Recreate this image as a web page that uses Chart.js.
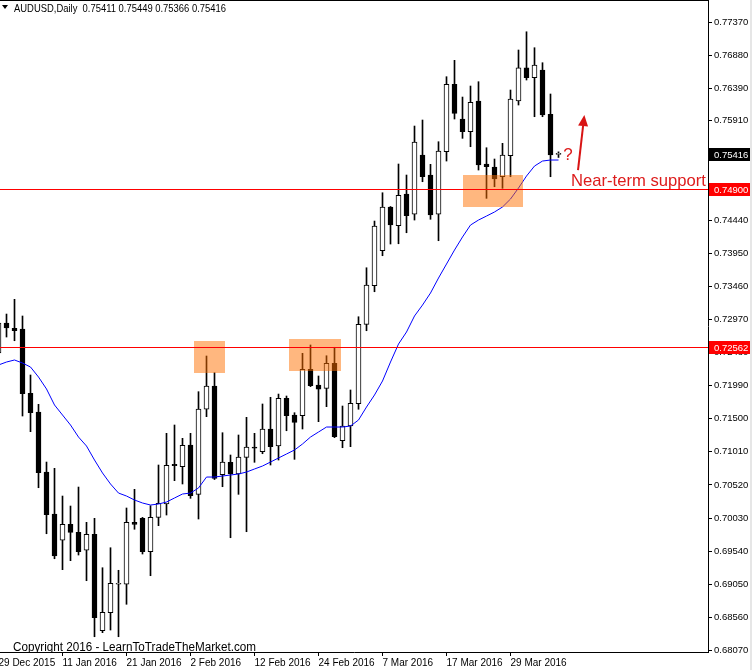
<!DOCTYPE html>
<html>
<head>
<meta charset="utf-8">
<script src="https://cdn.jsdelivr.net/npm/chart.js@4/dist/chart.umd.min.js"></script>
<style>
  html, body { margin: 0; padding: 0; background: #fff; }
  #wrap { width: 752px; height: 670px; }
</style>
</head>
<body>
<div id="wrap"><canvas id="chart"></canvas></div>
<script>
/* global Chart */

const symbol = "AUDUSD";
const timeframe = "Daily";

const dates = [
  "29 Dec 2015", "30 Dec 2015", "31 Dec 2015", "4 Jan 2016", "5 Jan 2016", "6 Jan 2016", "7 Jan 2016", "8 Jan 2016",
  "11 Jan 2016", "12 Jan 2016", "13 Jan 2016", "14 Jan 2016", "15 Jan 2016", "18 Jan 2016", "19 Jan 2016", "20 Jan 2016",
  "21 Jan 2016", "22 Jan 2016", "25 Jan 2016", "26 Jan 2016", "27 Jan 2016", "28 Jan 2016", "29 Jan 2016", "1 Feb 2016",
  "2 Feb 2016", "3 Feb 2016", "4 Feb 2016", "5 Feb 2016", "8 Feb 2016", "9 Feb 2016", "10 Feb 2016", "11 Feb 2016",
  "12 Feb 2016", "15 Feb 2016", "16 Feb 2016", "17 Feb 2016", "18 Feb 2016", "19 Feb 2016", "22 Feb 2016", "23 Feb 2016",
  "24 Feb 2016", "25 Feb 2016", "26 Feb 2016", "29 Feb 2016", "1 Mar 2016", "2 Mar 2016", "3 Mar 2016", "4 Mar 2016",
  "7 Mar 2016", "8 Mar 2016", "9 Mar 2016", "10 Mar 2016", "11 Mar 2016", "14 Mar 2016", "15 Mar 2016", "16 Mar 2016",
  "17 Mar 2016", "18 Mar 2016", "21 Mar 2016", "22 Mar 2016", "23 Mar 2016", "24 Mar 2016", "25 Mar 2016", "28 Mar 2016",
  "29 Mar 2016", "30 Mar 2016", "31 Mar 2016", "1 Apr 2016", "4 Apr 2016", "5 Apr 2016", "6 Apr 2016",
];

const opens = [
  0.72473, 0.72916, 0.72838, 0.72827, 0.71876, 0.71599, 0.70711, 0.70090,
  0.69701, 0.69937, 0.69819, 0.69553, 0.69790, 0.68363, 0.68629, 0.69050,
  0.69050, 0.69967, 0.70026, 0.69532, 0.70041, 0.70238, 0.70825, 0.70790,
  0.71111, 0.70381, 0.71640, 0.71984, 0.70671, 0.70855, 0.70682, 0.70929,
  0.71071, 0.71012, 0.71348, 0.71096, 0.71802, 0.71555, 0.71544, 0.72231,
  0.71999, 0.71950, 0.72320, 0.71175, 0.71392, 0.71722, 0.72897, 0.73468,
  0.73986, 0.74633, 0.74356, 0.74825, 0.74525, 0.75402, 0.75106, 0.74525,
  0.75451, 0.76448, 0.75935, 0.75747, 0.76201, 0.75269, 0.75224, 0.75081,
  0.75392, 0.76201, 0.76694, 0.76546, 0.76660, 0.76004, 0.75411,
];
const highs = [
  0.73000, 0.73049, 0.73267, 0.73020, 0.72147, 0.71713, 0.70859, 0.70766,
  0.70356, 0.70208, 0.70489, 0.69967, 0.70026, 0.69295, 0.69591, 0.69257,
  0.70179, 0.70455, 0.70040, 0.70213, 0.70815, 0.71284, 0.71407, 0.71210,
  0.71284, 0.71900, 0.72428, 0.72181, 0.71293, 0.70963, 0.71259, 0.71521,
  0.71284, 0.71718, 0.71817, 0.71865, 0.71836, 0.71589, 0.72468, 0.72591,
  0.72132, 0.72432, 0.72557, 0.71688, 0.71925, 0.73009, 0.73734, 0.74425,
  0.74844, 0.74640, 0.75269, 0.75106, 0.75831, 0.75920, 0.75264, 0.75599,
  0.76561, 0.76803, 0.76260, 0.76423, 0.76487, 0.75510, 0.75343, 0.75575,
  0.76364, 0.76956, 0.77226, 0.76990, 0.76768, 0.76305, 0.75449,
];
const lows = [
  0.72400, 0.72709, 0.72654, 0.71540, 0.71308, 0.70479, 0.69798, 0.69428,
  0.69266, 0.69399, 0.69483, 0.69103, 0.68274, 0.68334, 0.68373, 0.68274,
  0.68754, 0.69864, 0.69498, 0.69177, 0.69917, 0.70075, 0.70583, 0.70534,
  0.70322, 0.70016, 0.71530, 0.70600, 0.70494, 0.69739, 0.70381, 0.69828,
  0.70855, 0.70982, 0.70815, 0.70889, 0.71322, 0.70899, 0.71348, 0.71975,
  0.71456, 0.71678, 0.71220, 0.71071, 0.71086, 0.71640, 0.72802, 0.73379,
  0.73912, 0.74085, 0.74089, 0.74252, 0.74440, 0.75007, 0.74451, 0.74134,
  0.75313, 0.75935, 0.75649, 0.75525, 0.75180, 0.74761, 0.74933, 0.74909,
  0.75081, 0.76142, 0.76512, 0.75969, 0.75969, 0.75081, 0.75366,
];
const closes = [
  0.72916, 0.72842, 0.72802, 0.71870, 0.71589, 0.70701, 0.70080, 0.69468,
  0.69937, 0.69819, 0.69532, 0.69790, 0.68555, 0.68635, 0.69065, 0.69055,
  0.69967, 0.69937, 0.69532, 0.70041, 0.70248, 0.70810, 0.70805, 0.71106,
  0.70361, 0.71644, 0.71984, 0.70618, 0.70859, 0.70682, 0.70933, 0.71081,
  0.71066, 0.71348, 0.71086, 0.71802, 0.71544, 0.71447, 0.72231, 0.71988,
  0.71939, 0.72320, 0.71234, 0.71392, 0.71728, 0.72897, 0.73478, 0.74351,
  0.74633, 0.74366, 0.74806, 0.74504, 0.75594, 0.75081, 0.74514, 0.75461,
  0.76448, 0.76019, 0.75747, 0.76182, 0.75254, 0.75229, 0.75047, 0.75402,
  0.76231, 0.76694, 0.76546, 0.76734, 0.75994, 0.75402, 0.75416,
];
// moving average as drawn on the chart
const movingAvg = [
  0.72295, 0.72339, 0.72369, 0.72324, 0.72265, 0.72117, 0.71940, 0.71703,
  0.71555, 0.71407, 0.71229, 0.71096, 0.70889, 0.70697, 0.70534, 0.70400,
  0.70356, 0.70297, 0.70253, 0.70223, 0.70238, 0.70267, 0.70327, 0.70386,
  0.70400, 0.70475, 0.70637, 0.70637, 0.70652, 0.70667, 0.70682, 0.70711,
  0.70756, 0.70800, 0.70859, 0.70919, 0.70978, 0.71037, 0.71126, 0.71229,
  0.71303, 0.71377, 0.71377, 0.71377, 0.71392, 0.71481, 0.71673, 0.71851,
  0.72058, 0.72339, 0.72605, 0.72783, 0.73020, 0.73182, 0.73360, 0.73582,
  0.73789, 0.73996, 0.74189, 0.74366, 0.74440, 0.74499, 0.74559, 0.74633,
  0.74751, 0.74914, 0.75091, 0.75239, 0.75313, 0.75328, 0.75328,
];

const yTicks = [
  0.77370, 0.76880, 0.76390, 0.75910, 0.74440, 0.73950, 0.73460, 0.72970, 0.72480,
  0.71990, 0.71500, 0.71010, 0.70520, 0.70030, 0.69540, 0.69050, 0.68560, 0.68070,
];
const xLabelIdx = [0, 8, 16, 24, 32, 40, 48, 56, 64];

// horizontal levels
const levels = [0.74900, 0.72562];

// shaded zones (bar index range, price range)
const zoneFrom = [24.44, 36.31, 58.10];
const zoneTo = [28.31, 42.81, 65.52];
const zoneHigh = [0.72650, 0.72679, 0.75106];
const zoneLow = [0.72181, 0.72210, 0.74637];

// annotation anchors (bar index, price)
const noteText = "Near-term support";
const noteAt = [71.56, 0.74943];
const askAt = [70.60, 0.75328];
const arrowFrom = [72.44, 0.75180];
const arrowTo = [73.23, 0.75994];

const xMin = 0.1875;
const xMax = xMin + 708 / 8;
const yMin = 0.68048;
const yMax = 0.77696;

const idx = dates.map((_, i) => i);
const bodyColors = opens.map((o, i) => (closes[i] >= o ? "#ffffff" : "#000000"));
const FONT = "Liberation Sans, Arial, sans-serif";

const overlay = {
  id: "overlay",
  afterDatasetsDraw(chart) {
    const { ctx, chartArea: a, scales } = chart;
    const x = scales.x;
    const y = scales.y;
    ctx.save();
    ctx.beginPath();
    ctx.rect(a.left, a.top, a.width, a.height);
    ctx.clip();

    ctx.fillStyle = "rgba(255,112,0,0.5)";
    for (let k = 0; k < zoneFrom.length; k++) {
      const x0 = Math.round(x.getPixelForValue(zoneFrom[k]));
      const x1 = Math.round(x.getPixelForValue(zoneTo[k]));
      const y0 = Math.round(y.getPixelForValue(zoneHigh[k]));
      const y1 = Math.round(y.getPixelForValue(zoneLow[k]));
      ctx.fillRect(x0, y0, x1 - x0, y1 - y0);
    }

    ctx.fillStyle = "#ff0000";
    for (const v of levels) {
      const py = Math.round(y.getPixelForValue(v));
      ctx.fillRect(a.left, py, a.width, 1);
    }

    // arrow
    const ax0 = x.getPixelForValue(arrowFrom[0]);
    const ay0 = y.getPixelForValue(arrowFrom[1]);
    const ax1 = x.getPixelForValue(arrowTo[0]);
    const ay1 = y.getPixelForValue(arrowTo[1]);
    const ang = Math.atan2(ay1 - ay0, ax1 - ax0);
    const head = 11;
    const bx = ax1 - Math.cos(ang) * head;
    const by = ay1 - Math.sin(ang) * head;
    ctx.strokeStyle = "#d81414";
    ctx.lineWidth = 2;
    ctx.beginPath();
    ctx.moveTo(ax0, ay0);
    ctx.lineTo(bx, by);
    ctx.stroke();
    ctx.fillStyle = "#d81414";
    ctx.beginPath();
    ctx.moveTo(ax1, ay1);
    ctx.lineTo(bx + Math.sin(ang) * 5, by - Math.cos(ang) * 5);
    ctx.lineTo(bx - Math.sin(ang) * 5, by + Math.cos(ang) * 5);
    ctx.closePath();
    ctx.fill();

    // texts
    ctx.fillStyle = "#dd1c1c";
    ctx.font = "17px " + FONT;
    ctx.textBaseline = "alphabetic";
    ctx.textAlign = "left";
    ctx.fillText(noteText, x.getPixelForValue(noteAt[0]), y.getPixelForValue(noteAt[1]), 135);
    ctx.fillText("?", x.getPixelForValue(askAt[0]), y.getPixelForValue(askAt[1]));

    ctx.fillStyle = "#000";
    ctx.font = "12px " + FONT;
    ctx.fillText("Copyright 2016 - LearnToTradeTheMarket.com", 13, a.bottom - 1, 243);
    ctx.restore();
  },
  afterDraw(chart) {
    const { ctx, chartArea: a, scales } = chart;
    const y = scales.y;
    ctx.save();
    // frame: top line and the grey strip at the right edge
    ctx.fillStyle = "#000";
    ctx.fillRect(0, 0, a.right, 1);
    ctx.fillStyle = "#e6e6e6";
    ctx.fillRect(750, 0, 2, chart.height);

    // price tags on the axis
    const tags = [
      { v: closes[closes.length - 1], bg: "#000000" },
      { v: levels[0], bg: "#ff0000" },
      { v: levels[1], bg: "#ff0000" },
    ];
    ctx.font = "9.5px " + FONT;
    ctx.textBaseline = "middle";
    ctx.textAlign = "left";
    for (const t of tags) {
      const py = Math.round(y.getPixelForValue(t.v));
      ctx.fillStyle = t.bg;
      ctx.fillRect(a.right + 1, py - 6, 750 - a.right - 1, 13);
      ctx.fillStyle = "#ffffff";
      ctx.fillText(t.v.toFixed(5), a.right + 6, py + 1);
    }

    // header
    const last = closes.length - 1;
    ctx.fillStyle = "#000";
    ctx.beginPath();
    ctx.moveTo(2, 5);
    ctx.lineTo(8, 5);
    ctx.lineTo(5, 9);
    ctx.closePath();
    ctx.fill();
    ctx.font = "11px " + FONT;
    ctx.textBaseline = "alphabetic";
    const header = `${symbol},${timeframe}  ${opens[last].toFixed(5)} ${highs[last].toFixed(5)} ${lows[last].toFixed(5)} ${closes[last].toFixed(5)}`;
    ctx.fillText(header, 14, 12, 212);
    ctx.restore();
  },
};

new Chart(document.getElementById("chart"), {
  type: "bar",
  data: {
    datasets: [
      {
        type: "line",
        label: "MA",
        data: idx.map((i) => ({ x: i, y: movingAvg[i] })),
        borderColor: "#0000ff",
        borderWidth: 1,
        pointRadius: 0,
        tension: 0,
        order: 0,
      },
      {
        label: "body",
        data: idx.map((i) => ({ x: i, y: [opens[i], closes[i]] })),
        backgroundColor: bodyColors,
        borderColor: "#000000",
        borderWidth: 1,
        borderSkipped: false,
        barThickness: 5,
        minBarLength: 1,
        grouped: false,
        order: 1,
      },
      {
        label: "wick",
        data: idx.map((i) => ({ x: i, y: [lows[i], highs[i]] })),
        backgroundColor: "#000000",
        borderWidth: 0,
        barThickness: 1,
        grouped: false,
        order: 2,
      },
    ],
  },
  options: {
    responsive: true,
    maintainAspectRatio: false,
    animation: false,
    events: [],
    layout: { padding: 0 },
    plugins: { legend: { display: false }, tooltip: { enabled: false } },
    scales: {
      x: {
        type: "linear",
        min: xMin,
        max: xMax,
        offset: false,
        grid: { display: true, offset: false, drawOnChartArea: false, drawTicks: true, tickLength: 4, color: "#000" },
        border: { display: true, color: "#000", width: 1 },
        ticks: {
          autoSkip: false,
          maxRotation: 0,
          minRotation: 0,
          align: "start",
          padding: 1,
          color: "#000",
          font: { family: FONT, size: 10 },
          callback: (v) => dates[v] ?? "",
        },
        afterBuildTicks: (s) => {
          s.ticks = xLabelIdx.map((v) => ({ value: v }));
        },
        afterFit: (s) => {
          s.height = 18;
          s.paddingLeft = 0;
          s.paddingRight = 0;
        },
      },
      y: {
        position: "right",
        min: yMin,
        max: yMax,
        grid: { display: true, drawOnChartArea: false, drawTicks: true, tickLength: 4, color: "#000" },
        border: { display: true, color: "#000", width: 1 },
        ticks: {
          padding: 2,
          color: "#000",
          font: { family: FONT, size: 9.5 },
          callback: (v) => Number(v).toFixed(5),
        },
        afterBuildTicks: (s) => {
          s.ticks = yTicks.map((v) => ({ value: v }));
        },
        afterFit: (s) => {
          s.width = 44;
          s.paddingTop = 0;
          s.paddingBottom = 0;
        },
      },
    },
  },
  plugins: [overlay],
});
</script>
</body>
</html>
